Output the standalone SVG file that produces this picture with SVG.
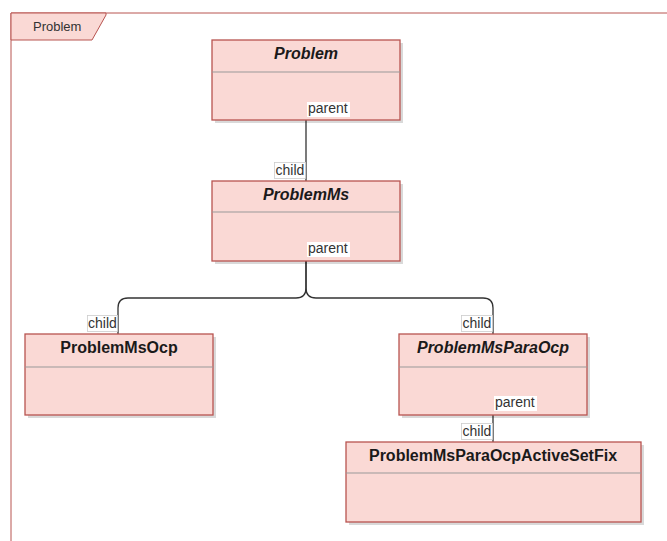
<svg xmlns="http://www.w3.org/2000/svg" width="667" height="541" viewBox="0 0 667 541">
<defs>
<style>
.box{fill:#fad9d5;stroke:#b85450;stroke-width:1.3}
.shadow{fill:#000;opacity:0.15}
.div{stroke:#999;stroke-width:1}
.title{font-family:"Liberation Sans",Arial,sans-serif;font-size:16px;font-weight:bold;fill:#1a1a1a;text-anchor:middle}
.it{font-style:italic}
.lbl{font-family:"Liberation Sans",Arial,sans-serif;font-size:14px;fill:#333}
.lblbg{fill:#fff}
.lblbgc{fill:#fff;stroke:#ccc;stroke-width:0.8}
.conn{fill:none;stroke:#333;stroke-width:1.3}
</style>
</defs>
<rect width="667" height="541" fill="#fff"/>
<g id="frame">
<path d="M11,541 V13 H667" fill="none" stroke="#b85450" stroke-width="1"/>
<path d="M11,13 H106 V15 L92,40 H11 Z" fill="#fad9d5" stroke="#b85450" stroke-width="1"/>
<text x="33" y="31" class="lbl" style="font-size:13px">Problem</text>
</g>
<g id="connectors">
<path class="conn" d="M306,120 V181"/>
<path class="conn" d="M306,261 V288 Q306,298 296,298 H128 Q118,298 118,308 V334"/>
<path class="conn" d="M306,261 V288 Q306,298 316,298 H483 Q493,298 493,308 V334"/>
<path class="conn" d="M493,415 V442"/>
</g>
<g id="Problem">
<rect class="shadow" x="215" y="43" width="188" height="80"/>
<rect class="box" x="212" y="40" width="188" height="80"/>
<line class="div" x1="212" y1="72" x2="400" y2="72"/>
<text class="title it" x="306" y="59">Problem</text>
</g>
<g id="ProblemMs">
<rect class="shadow" x="215" y="184" width="188" height="80"/>
<rect class="box" x="212" y="181" width="188" height="80"/>
<line class="div" x1="212" y1="212" x2="400" y2="212"/>
<text class="title it" x="306" y="200">ProblemMs</text>
</g>
<g id="ProblemMsOcp">
<rect class="shadow" x="28" y="337" width="188" height="81"/>
<rect class="box" x="25" y="334" width="188" height="81"/>
<line class="div" x1="25" y1="367" x2="213" y2="367"/>
<text class="title" x="119" y="353">ProblemMsOcp</text>
</g>
<g id="ProblemMsParaOcp">
<rect class="shadow" x="402" y="337" width="188" height="81"/>
<rect class="box" x="399" y="334" width="188" height="81"/>
<line class="div" x1="399" y1="367" x2="587" y2="367"/>
<text class="title it" x="493" y="353">ProblemMsParaOcp</text>
</g>
<g id="ProblemMsParaOcpActiveSetFix">
<rect class="shadow" x="349" y="445" width="295" height="80"/>
<rect class="box" x="346" y="442" width="295" height="80"/>
<line class="div" x1="346" y1="473" x2="641" y2="473"/>
<text class="title" x="493" y="461">ProblemMsParaOcpActiveSetFix</text>
</g>
<g id="labels">
<rect class="lblbg" x="307" y="102" width="43" height="15"/>
<text class="lbl" x="308" y="113">parent</text>
<rect class="lblbgc" x="274.5" y="162.5" width="31" height="16"/>
<text class="lbl" x="275.5" y="175">child</text>
<rect class="lblbg" x="307" y="242" width="43" height="15"/>
<text class="lbl" x="308" y="253">parent</text>
<rect class="lblbgc" x="87.5" y="315.5" width="30" height="16"/>
<text class="lbl" x="88" y="328">child</text>
<rect class="lblbgc" x="461.5" y="315.5" width="31" height="16"/>
<text class="lbl" x="462.5" y="328">child</text>
<rect class="lblbg" x="494" y="396" width="43" height="15"/>
<text class="lbl" x="495" y="407">parent</text>
<rect class="lblbgc" x="461.5" y="423.5" width="31" height="16"/>
<text class="lbl" x="462.5" y="436">child</text>
</g>
</svg>
